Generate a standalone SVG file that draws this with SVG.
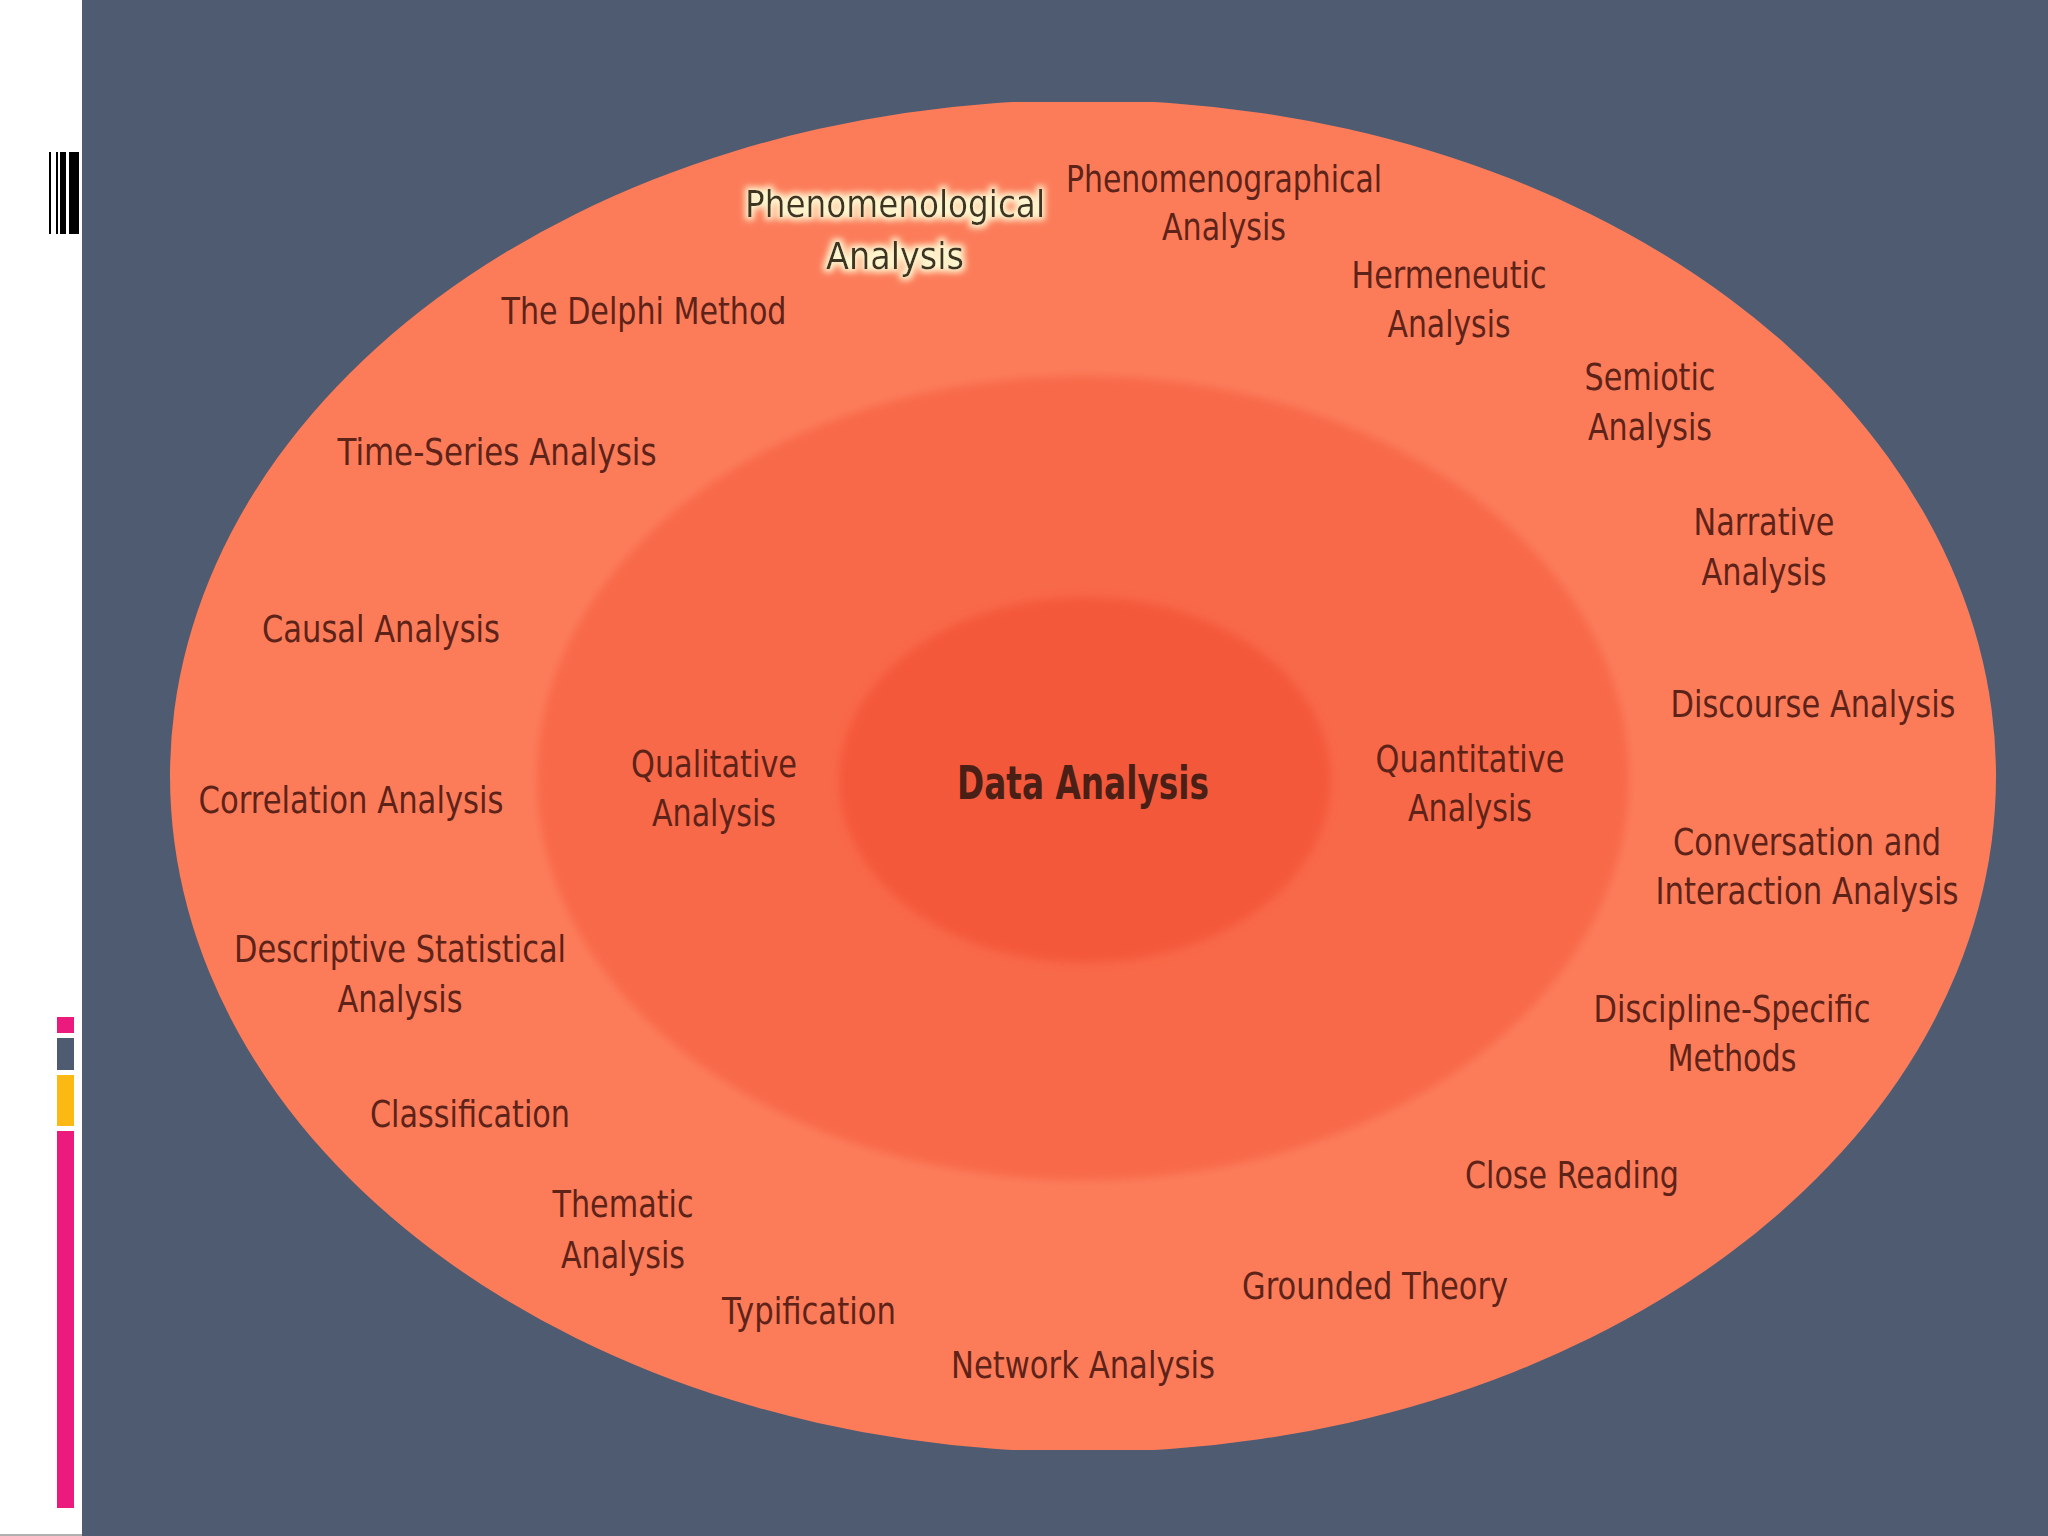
<svg xmlns="http://www.w3.org/2000/svg" width="2048" height="1536" viewBox="0 0 2048 1536">
<defs>
<style>
.lbl{font-family:"DejaVu Sans","Verdana",sans-serif;font-size:38px;fill:#5e2318;text-anchor:middle}
.bold{font-weight:bold;font-size:46px;fill:#4a1f16}
.glowtxt{fill:#3d3620}
</style>
<filter id="glow" x="-10%" y="-30%" width="120%" height="160%">
<feMorphology in="SourceAlpha" operator="dilate" radius="3" result="d"/>
<feGaussianBlur in="d" stdDeviation="3" result="b"/>
<feFlood flood-color="#fff6cf" result="f"/>
<feComposite in="f" in2="b" operator="in" result="g"/>
<feMerge><feMergeNode in="g"/><feMergeNode in="SourceGraphic"/></feMerge>
</filter>
<filter id="soft" x="-5%" y="-5%" width="110%" height="110%">
<feGaussianBlur stdDeviation="4"/>
</filter>
<clipPath id="clipOuter"><rect x="0" y="102" width="2048" height="1348"/></clipPath>
</defs>

<g id="background">
<rect x="0" y="0" width="2048" height="1536" fill="#4f5b71"/>
<rect x="0" y="0" width="82" height="1536" fill="#ffffff"/>
<rect x="0" y="1534" width="82" height="2" fill="#b0b0b0"/>
</g>

<g id="barcode" fill="#000000">
<rect x="49" y="152" width="2" height="82"/>
<rect x="56" y="152" width="2" height="82"/>
<rect x="60" y="152" width="6" height="82"/>
<rect x="69" y="152" width="10" height="82"/>
</g>

<g id="colorbars">
<rect x="57" y="1017" width="17" height="16" fill="#ec1a7c"/>
<rect x="57" y="1038" width="17" height="32" fill="#4f5b71"/>
<rect x="57" y="1075" width="17" height="51" fill="#fdb913"/>
<rect x="57" y="1131" width="17" height="377" fill="#ec1a7c"/>
</g>

<g id="outer-ring">
<ellipse cx="1083" cy="776" rx="913" ry="676" fill="#fc7c5a" clip-path="url(#clipOuter)"/>
</g>
<g id="middle-ring">
<ellipse cx="1083" cy="778" rx="546" ry="402" fill="#f8694a" filter="url(#soft)"/>
</g>
<g id="inner-core">
<ellipse cx="1085" cy="780" rx="246" ry="183" fill="#f4583a" filter="url(#soft)"/>
</g>

<g id="node-data-analysis">
<text class="lbl bold" x="1083" y="799" textLength="252" lengthAdjust="spacingAndGlyphs">Data Analysis</text>
</g>
<g id="node-qualitative">
<text class="lbl" x="714" y="777" textLength="166" lengthAdjust="spacingAndGlyphs">Qualitative</text>
<text class="lbl" x="714" y="826" textLength="124" lengthAdjust="spacingAndGlyphs">Analysis</text>
</g>
<g id="node-quantitative">
<text class="lbl" x="1470" y="772" textLength="189" lengthAdjust="spacingAndGlyphs">Quantitative</text>
<text class="lbl" x="1470" y="821" textLength="124" lengthAdjust="spacingAndGlyphs">Analysis</text>
</g>

<g id="node-phenomenological" filter="url(#glow)">
<text class="lbl glowtxt" x="895" y="217" textLength="300" lengthAdjust="spacingAndGlyphs">Phenomenological</text>
<text class="lbl glowtxt" x="895" y="269" textLength="138" lengthAdjust="spacingAndGlyphs">Analysis</text>
</g>
<g id="node-phenomenographical">
<text class="lbl" x="1224" y="192" textLength="316" lengthAdjust="spacingAndGlyphs">Phenomenographical</text>
<text class="lbl" x="1224" y="240" textLength="124" lengthAdjust="spacingAndGlyphs">Analysis</text>
</g>
<g id="node-hermeneutic">
<text class="lbl" x="1449" y="288" textLength="195" lengthAdjust="spacingAndGlyphs">Hermeneutic</text>
<text class="lbl" x="1449" y="337" textLength="123" lengthAdjust="spacingAndGlyphs">Analysis</text>
</g>
<g id="node-delphi">
<text class="lbl" x="644" y="324" textLength="285" lengthAdjust="spacingAndGlyphs">The Delphi Method</text>
</g>
<g id="node-semiotic">
<text class="lbl" x="1650" y="390" textLength="131" lengthAdjust="spacingAndGlyphs">Semiotic</text>
<text class="lbl" x="1650" y="440" textLength="124" lengthAdjust="spacingAndGlyphs">Analysis</text>
</g>
<g id="node-time-series">
<text class="lbl" x="497" y="465" textLength="319" lengthAdjust="spacingAndGlyphs">Time-Series Analysis</text>
</g>
<g id="node-narrative">
<text class="lbl" x="1764" y="535" textLength="141" lengthAdjust="spacingAndGlyphs">Narrative</text>
<text class="lbl" x="1764" y="585" textLength="125" lengthAdjust="spacingAndGlyphs">Analysis</text>
</g>
<g id="node-causal">
<text class="lbl" x="381" y="642" textLength="238" lengthAdjust="spacingAndGlyphs">Causal Analysis</text>
</g>
<g id="node-discourse">
<text class="lbl" x="1813" y="717" textLength="285" lengthAdjust="spacingAndGlyphs">Discourse Analysis</text>
</g>
<g id="node-correlation">
<text class="lbl" x="351" y="813" textLength="305" lengthAdjust="spacingAndGlyphs">Correlation Analysis</text>
</g>
<g id="node-conversation">
<text class="lbl" x="1807" y="855" textLength="268" lengthAdjust="spacingAndGlyphs">Conversation and</text>
<text class="lbl" x="1807" y="904" textLength="303" lengthAdjust="spacingAndGlyphs">Interaction Analysis</text>
</g>
<g id="node-descriptive">
<text class="lbl" x="400" y="962" textLength="332" lengthAdjust="spacingAndGlyphs">Descriptive Statistical</text>
<text class="lbl" x="400" y="1012" textLength="125" lengthAdjust="spacingAndGlyphs">Analysis</text>
</g>
<g id="node-discipline">
<text class="lbl" x="1732" y="1022" textLength="277" lengthAdjust="spacingAndGlyphs">Discipline-Specific</text>
<text class="lbl" x="1732" y="1071" textLength="129" lengthAdjust="spacingAndGlyphs">Methods</text>
</g>
<g id="node-classification">
<text class="lbl" x="470" y="1127" textLength="200" lengthAdjust="spacingAndGlyphs">Classification</text>
</g>
<g id="node-close-reading">
<text class="lbl" x="1572" y="1188" textLength="214" lengthAdjust="spacingAndGlyphs">Close Reading</text>
</g>
<g id="node-thematic">
<text class="lbl" x="623" y="1217" textLength="141" lengthAdjust="spacingAndGlyphs">Thematic</text>
<text class="lbl" x="623" y="1268" textLength="124" lengthAdjust="spacingAndGlyphs">Analysis</text>
</g>
<g id="node-grounded">
<text class="lbl" x="1375" y="1299" textLength="266" lengthAdjust="spacingAndGlyphs">Grounded Theory</text>
</g>
<g id="node-typification">
<text class="lbl" x="809" y="1324" textLength="174" lengthAdjust="spacingAndGlyphs">Typification</text>
</g>
<g id="node-network">
<text class="lbl" x="1083" y="1378" textLength="264" lengthAdjust="spacingAndGlyphs">Network Analysis</text>
</g>
</svg>
